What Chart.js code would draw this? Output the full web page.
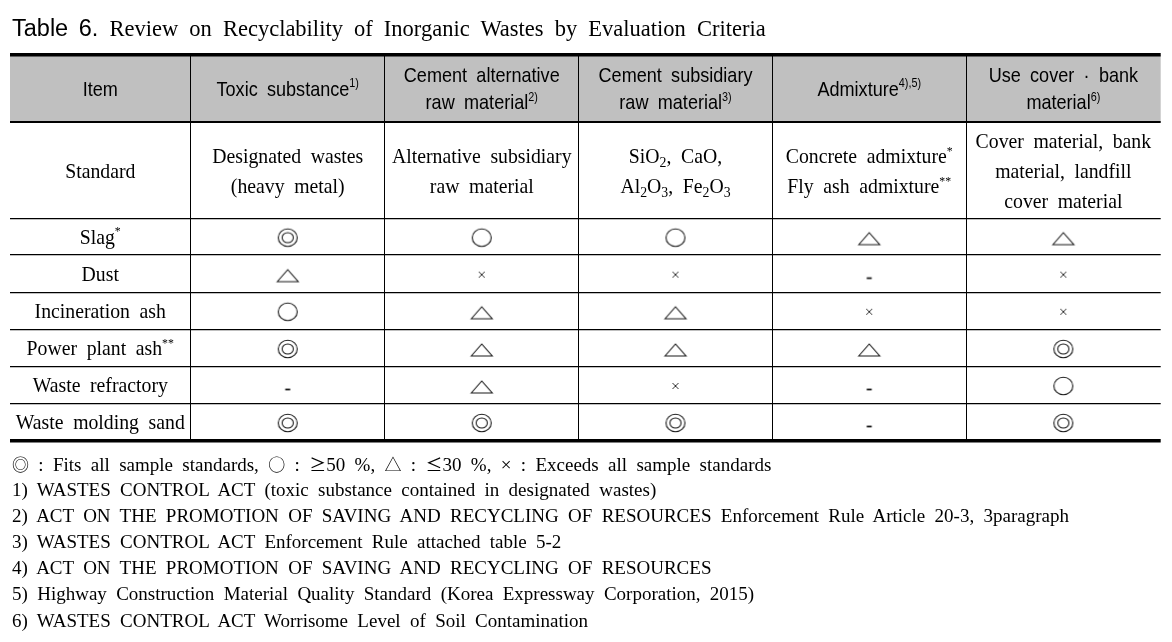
<!DOCTYPE html>
<html>
<head>
<meta charset="utf-8">
<title>Table 6</title>
<script src="https://cdn.jsdelivr.net/npm/chart.js@4.4.1/dist/chart.umd.min.js"></script>
<style>
html, body { margin: 0; padding: 0; background: #fff; }
#wrap { position: relative; width: 1172px; height: 642px; overflow: hidden; }
#tabla { position: absolute; left: 0; top: 0; }
.linea { position: absolute; left: 12px; white-space: nowrap; transform-origin: 0 0; color: #000;
         font-family: "Liberation Serif", "Noto Sans CJK KR", serif; font-size: 19px; line-height: 26px; word-spacing: 4.6px; }
#titulo { font-size: 22.5px; line-height: 30px; top: 13px; word-spacing: 5.5px; }
#titulo .sans { font-family: "Liberation Sans", sans-serif; font-size: 23.5px; word-spacing: 4px; }
.sim { font-family: "Noto Sans CJK KR", sans-serif; font-size: 17px; }
</style>
</head>
<body>
<div id="wrap">
  <canvas id="tabla" width="1172" height="642"></canvas>
  <div class="linea" id="titulo"><span class="sans">Table 6.</span> Review on Recyclability of Inorganic Wastes by Evaluation Criteria</div>
  <div class="linea" style="top:451px"><span class="sim">◎</span> : Fits all sample standards, <span class="sim">○</span> : <span class="sim">≥</span>50 %, <span class="sim">△</span> : <span class="sim">≤</span>30 %, × : Exceeds all sample standards</div>
  <div class="linea" style="top:477px">1) WASTES CONTROL ACT (toxic substance contained in designated wastes)</div>
  <div class="linea" style="top:503px">2) ACT ON THE PROMOTION OF SAVING AND RECYCLING OF RESOURCES Enforcement Rule Article 20-3, 3paragraph</div>
  <div class="linea" style="top:529px">3) WASTES CONTROL ACT Enforcement Rule attached table 5-2</div>
  <div class="linea" style="top:555px">4) ACT ON THE PROMOTION OF SAVING AND RECYCLING OF RESOURCES</div>
  <div class="linea" style="top:581px">5) Highway Construction Material Quality Standard (Korea Expressway Corporation, 2015)</div>
  <div class="linea" style="top:608px">6) WASTES CONTROL ACT Worrisome Level of Soil Contamination</div>
</div>
<script>
// Datos de la tabla
const encabezados = ['Item', 'Toxic substance^{1)}', 'Cement alternative|raw material^{2)}',
    'Cement subsidiary|raw material^{3)}', 'Admixture^{4),5)}', 'Use cover · bank|material^{6)}'];
const estandares = ['Standard', 'Designated wastes|(heavy metal)', 'Alternative subsidiary|raw material',
    'SiO_{2}, CaO,|Al_{2}O_{3}, Fe_{2}O_{3}', 'Concrete admixture^{*}|Fly ash admixture^{**}',
    'Cover material, bank|material, landfill|cover material'];
const residuos = ['Slag^{*}', 'Dust', 'Incineration ash', 'Power plant ash^{**}', 'Waste refractory', 'Waste molding sand'];

// Evaluación por criterio (una lista por columna)
const sustanciaToxica = ['◎', '△', '○', '◎', '-', '◎'];
const cementoAlternativo = ['○', '×', '△', '△', '△', '◎'];
const cementoSubsidiario = ['○', '×', '△', '△', '×', '◎'];
const aditivo = ['△', '-', '×', '△', '-', '-'];
const cubierta = ['△', '×', '×', '◎', '○', '◎'];
const simbolos = ['◎', '○', '△', '×', '-'];

// Geometría de la tabla (unidades de escala = px)
const anchosColumna = [180.5, 194.5, 193.5, 194, 193.5, 194.7];
const altosFila = [66.5, 96.8, 36.7, 37.3, 37, 37.4, 36.6, 37.4];

function bordes(lista) {
    const res = [0];
    lista.forEach(v => res.push(res[res.length - 1] + v));
    return res;
}
const bordesX = bordes(anchosColumna);
const bordesY = bordes(altosFila);
const centroX = i => bordesX[i] + anchosColumna[i] / 2;
const centroY = i => bordesY[i] + altosFila[i] / 2;

// Dibujar los símbolos en canvas pequeños para usarlos como pointStyle
function crearSimbolo(s) {
    const c = document.createElement('canvas');
    c.width = 26; c.height = 26;
    const g = c.getContext('2d');
    g.strokeStyle = '#1a1a1a';
    g.lineWidth = 1.1;
    g.beginPath();
    if (s === '◎') {
        g.ellipse(13, 14, 9.5, 8.7, 0, 0, Math.PI * 2);
        g.moveTo(18.6, 14);
        g.ellipse(13, 14, 5.6, 5, 0, 0, Math.PI * 2);
    } else if (s === '○') {
        g.ellipse(13, 14, 9.5, 8.7, 0, 0, Math.PI * 2);
    } else if (s === '△') {
        g.moveTo(2.5, 21); g.lineTo(13, 9); g.lineTo(23.5, 21); g.closePath();
    } else if (s === '×') {
        g.lineWidth = 0.9;
        g.moveTo(10, 11); g.lineTo(16, 17);
        g.moveTo(16, 11); g.lineTo(10, 17);
    } else {
        g.lineWidth = 1.8;
        g.moveTo(10.5, 17.5); g.lineTo(15.5, 17.5);
    }
    g.stroke();
    return c;
}

const columnas = [sustanciaToxica, cementoAlternativo, cementoSubsidiario, aditivo, cubierta];
const datasets = simbolos.map(s => {
    const puntos = [];
    columnas.forEach((col, c) => {
        col.forEach((v, r) => {
            if (v === s) puntos.push({ x: centroX(c + 1), y: centroY(r + 2) });
        });
    });
    return { label: s, data: puntos, pointStyle: crearSimbolo(s), pointRadius: 5, pointHoverRadius: 5 };
});

// Texto con superíndices y subíndices
function partes(s) {
    const res = [];
    const re = /\^\{([^}]*)\}|_\{([^}]*)\}/g;
    let ultimo = 0, m;
    while ((m = re.exec(s))) {
        if (m.index > ultimo) res.push({ t: s.slice(ultimo, m.index), k: 'n' });
        res.push({ t: m[1] !== undefined ? m[1] : m[2], k: m[1] !== undefined ? 'sup' : 'sub' });
        ultimo = re.lastIndex;
    }
    if (ultimo < s.length) res.push({ t: s.slice(ultimo), k: 'n' });
    return res;
}

function fuente(est, k) {
    const t = k === 'n' ? est.size : est.size * (k === 'sup' ? 0.6 : 0.7);
    return t.toFixed(1) + 'px ' + est.family;
}

function anchoParte(ctx, est, p) {
    ctx.font = fuente(est, p.k);
    const palabras = p.t.split(' ');
    let w = 0;
    palabras.forEach((pal, i) => {
        w += ctx.measureText(pal).width;
        if (i < palabras.length - 1) w += ctx.measureText(' ').width + est.gap;
    });
    return w;
}

function textoRico(ctx, s, cx, base, est) {
    const ps = partes(s);
    const total = ps.reduce((a, p) => a + anchoParte(ctx, est, p), 0);
    ctx.save();
    ctx.translate(cx - total * est.sx / 2, base);
    ctx.scale(est.sx, 1);
    ctx.fillStyle = '#000';
    ctx.textBaseline = 'alphabetic';
    ctx.textAlign = 'left';
    let x = 0;
    ps.forEach(p => {
        ctx.font = fuente(est, p.k);
        const dy = p.k === 'sup' ? -est.size * 0.4 : (p.k === 'sub' ? est.size * 0.2 : 0);
        const palabras = p.t.split(' ');
        palabras.forEach((pal, i) => {
            ctx.fillText(pal, x, dy);
            x += ctx.measureText(pal).width;
            if (i < palabras.length - 1) x += ctx.measureText(' ').width + est.gap;
        });
    });
    ctx.restore();
}

const estiloSans = { family: '"Liberation Sans", Arial, sans-serif', size: 21, sx: 0.86, gap: 5 };
const estiloSerif = { family: '"Liberation Serif", "Times New Roman", serif', size: 21, sx: 0.94, gap: 5 };

const pluginTabla = {
    id: 'pluginTabla',
    beforeDraw(chart) {
        const { ctx, scales: { x, y } } = chart;
        ctx.save();
        ctx.fillStyle = '#c0c0c0';
        const y0 = y.getPixelForValue(bordesY[0]);
        const y1 = y.getPixelForValue(bordesY[1]);
        ctx.fillRect(x.left, y0, x.right - x.left, y1 - y0);
        ctx.restore();
    },
    afterDatasetsDraw(chart) {
        const { ctx, scales: { x, y } } = chart;
        // Encabezado
        encabezados.forEach((t, c) => {
            const lineas = t.split('|');
            const cx = x.getPixelForValue(centroX(c));
            const cy = y.getPixelForValue(centroY(0));
            lineas.forEach((l, i) => {
                const yy = cy + (i - (lineas.length - 1) / 2) * 27;
                textoRico(ctx, l, cx, yy + 7.5, estiloSans);
            });
        });
        // Fila de estándares
        estandares.forEach((t, c) => {
            const lineas = t.split('|');
            const cx = x.getPixelForValue(centroX(c));
            const cy = y.getPixelForValue(centroY(1)) + 1;
            lineas.forEach((l, i) => {
                const yy = cy + (i - (lineas.length - 1) / 2) * 30;
                textoRico(ctx, l, cx, yy + 7, estiloSerif);
            });
        });
        // Nombres de residuos
        residuos.forEach((t, r) => {
            textoRico(ctx, t, x.getPixelForValue(centroX(0)), y.getPixelForValue(centroY(r + 2)) + 7, estiloSerif);
        });
    }
};

const ultimoY = bordesY.length - 1;
const ultimoX = bordesX.length - 1;

new Chart(document.getElementById('tabla'), {
    type: 'scatter',
    data: { datasets },
    options: {
        responsive: false,
        animation: false,
        events: [],
        layout: { padding: { left: 10, right: 11.3, top: 55, bottom: 201.3 } },
        plugins: { legend: { display: false }, tooltip: { enabled: false } },
        scales: {
            x: {
                type: 'linear',
                min: 0,
                max: bordesX[ultimoX],
                afterBuildTicks: axis => { axis.ticks = bordesX.map(v => ({ value: v })); },
                ticks: { display: false },
                border: { display: false },
                grid: {
                    drawTicks: false,
                    color: ctx => (ctx.index === 0 || ctx.index === ultimoX) ? 'rgba(0,0,0,0)' : '#000',
                    lineWidth: 1
                }
            },
            y: {
                type: 'linear',
                reverse: true,
                min: 0,
                max: bordesY[ultimoY],
                afterBuildTicks: axis => { axis.ticks = bordesY.map(v => ({ value: v })); },
                ticks: { display: false },
                border: { display: false },
                grid: {
                    drawTicks: false,
                    color: '#000',
                    lineWidth: ctx => {
                        if (ctx.index === 0 || ctx.index === ultimoY) return 3.5;
                        if (ctx.index === 1) return 2;
                        return 1.2;
                    }
                }
            }
        }
    },
    plugins: [pluginTabla]
});
</script>
</body>
</html>
